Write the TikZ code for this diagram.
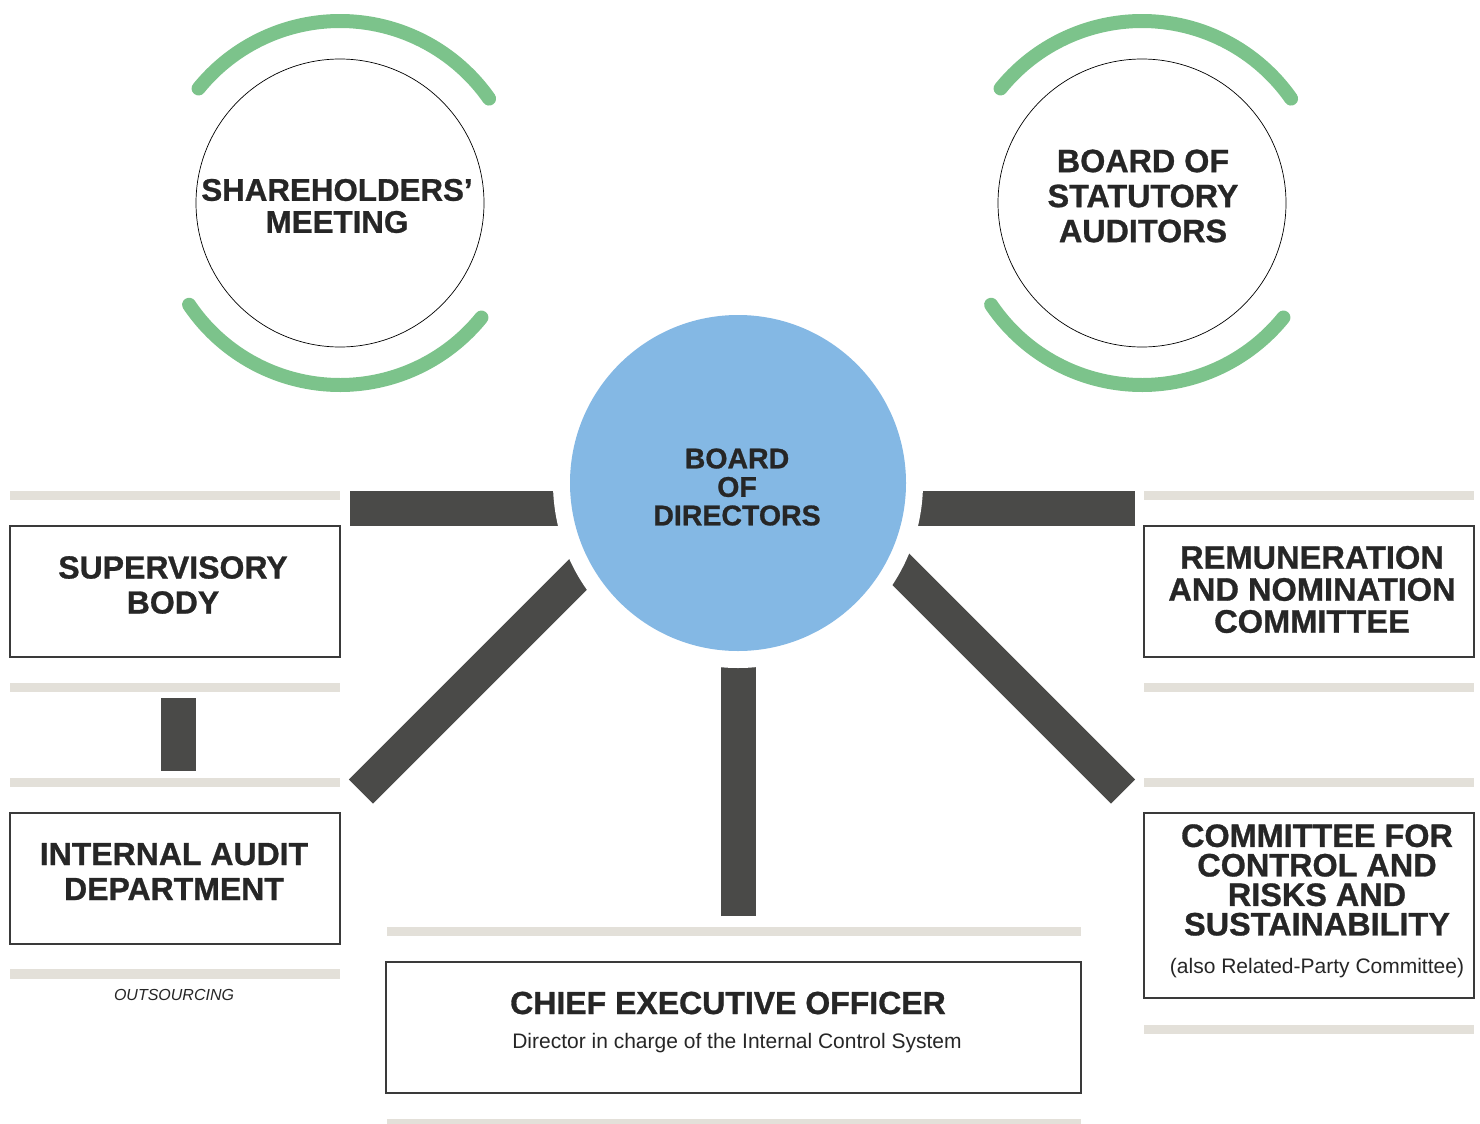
\documentclass[tikz,border=0pt]{standalone}
\usepackage{fontspec}
\setmainfont{Liberation Sans}
\newfontfamily\hvy{Liberation Sans}[FakeBold=0.9]
\definecolor{ink}{HTML}{262626}
\definecolor{arcgreen}{HTML}{7CC38B}
\definecolor{boardblue}{HTML}{84B8E4}
\definecolor{barDark}{HTML}{4A4A48}
\definecolor{beige}{HTML}{E3E0D9}
\definecolor{boxline}{HTML}{3A3A3A}
\begin{document}
\begin{tikzpicture}[x=1pt,y=-1pt,
  hd/.style={text=ink, align=center, inner sep=0pt, font=\hvy\bfseries\fontsize{32}{35}\selectfont},
  sub/.style={text=ink, align=center, inner sep=0pt, font=\fontsize{21}{24}\selectfont},
  unit/.style={draw=boxline, line width=1.1pt, rectangle, inner sep=0pt},
  ring/.style={circle, draw=black, line width=0.7pt, minimum size=288pt, inner sep=0pt},
  greenarc/.style={draw=arcgreen, line width=14pt, line cap=round},
  link/.style={draw=barDark, line width=35pt},
  rule/.style={fill=beige}
]
\useasboundingbox (0,0) rectangle (1480,1124);

% beige rules
\fill[rule] (10,491) rectangle (340,500);
\fill[rule] (10,683) rectangle (340,692);
\fill[rule] (10,778) rectangle (340,787);
\fill[rule] (10,969) rectangle (340,979);
\fill[rule] (1144,491) rectangle (1474,500);
\fill[rule] (1144,683) rectangle (1474,692);
\fill[rule] (1144,778) rectangle (1474,787);
\fill[rule] (1144,1025) rectangle (1474,1034);
\fill[rule] (387,927) rectangle (1081,936);
\fill[rule] (387,1119) rectangle (1081,1124);

% coordinates for connector ends
\coordinate (bc) at (738,483);
\coordinate (hlA) at (350,508.5);
\coordinate (hlB) at (738,508.5);
\coordinate (hrA) at (1135,508.5);
\coordinate (vA) at (738,916);
\coordinate (dlA) at (361,791.5);
\coordinate (dlB) at (611,541.5);
\coordinate (drA) at (1123,791.5);
\coordinate (drB) at (873,541.5);

% connectors to the board
\draw[link] (hlA) -- (hlB);
\draw[link] (hrA) -- (hlB);
\draw[link] (vA) -- (bc);
\draw[link, line width=34pt] (dlA) -- (dlB);
\draw[link, line width=34pt] (drA) -- (drB);
\fill[white] (bc) circle[radius=185];

% board of directors
\node[circle, fill=boardblue, minimum size=336pt, inner sep=0pt] (bod) at (bc) {};
\node[hd, font=\hvy\bfseries\fontsize{28.5}{28.5}\selectfont] (bodt) at (737,487) {BOARD\\OF\\DIRECTORS};

% shareholders' meeting (y axis points down: negative angles are visually above)
\node[ring] (sh) at (340,203) {};
\draw[greenarc] ([shift={(-35:182)}]sh.center) arc[start angle=-35, end angle=-141, radius=182];
\draw[greenarc] ([shift={(-214:182)}]sh.center) arc[start angle=-214, end angle=-321, radius=182];
\node[hd, font=\hvy\bfseries\fontsize{31.3}{32}\selectfont] (sht) at (337,206) {SHAREHOLDERS’\\MEETING};

% board of statutory auditors
\node[ring] (sa) at (1142,203) {};
\draw[greenarc] ([shift={(-35:182)}]sa.center) arc[start angle=-35, end angle=-141, radius=182];
\draw[greenarc] ([shift={(-214:182)}]sa.center) arc[start angle=-214, end angle=-321, radius=182];
\node[hd, font=\hvy\bfseries\fontsize{32.3}{35}\selectfont] (sat) at (1143,196) {BOARD OF\\STATUTORY\\AUDITORS};

% left column
\node[unit, minimum width=330pt, minimum height=131pt] (sup) at (175,591.5) {};
\node[hd] (supt) at (173,585) {SUPERVISORY\\BODY};
\coordinate (svA) at (178.5,698);
\coordinate (svB) at (178.5,771);
\draw[link] (svA) -- (svB);
\node[unit, minimum width=330pt, minimum height=131pt] (ia) at (175,878.5) {};
\node[hd, font=\hvy\bfseries\fontsize{32}{35}\selectfont] (iat) at (174,871.5) {INTERNAL AUDIT\\DEPARTMENT};
\node[text=ink, inner sep=0pt, font=\itshape\fontsize{16}{18}\selectfont] (out) at (174,995) {OUTSOURCING};

% right column
\node[unit, minimum width=330pt, minimum height=131pt] (rem) at (1309,591.5) {};
\node[hd, font=\hvy\bfseries\fontsize{32.6}{32}\selectfont] (remt) at (1312,589.5) {REMUNERATION\\AND NOMINATION\\COMMITTEE};
\node[unit, minimum width=330pt, minimum height=185pt] (crs) at (1309,905.5) {};
\node[hd, font=\hvy\bfseries\fontsize{32.4}{29.5}\selectfont] (crst) at (1317,880) {COMMITTEE FOR\\CONTROL AND\\RISKS AND\\SUSTAINABILITY};
\node[sub] (crss) at (1317,968) {(also Related-Party Committee)};

% chief executive officer
\node[unit, minimum width=695pt, minimum height=131pt] (ceo) at (733.5,1027.5) {};
\node[hd] (ceot) at (728,1003) {CHIEF EXECUTIVE OFFICER};
\node[sub] (ceos) at (737,1043) {Director in charge of the Internal Control System};
\end{tikzpicture}
\end{document}
